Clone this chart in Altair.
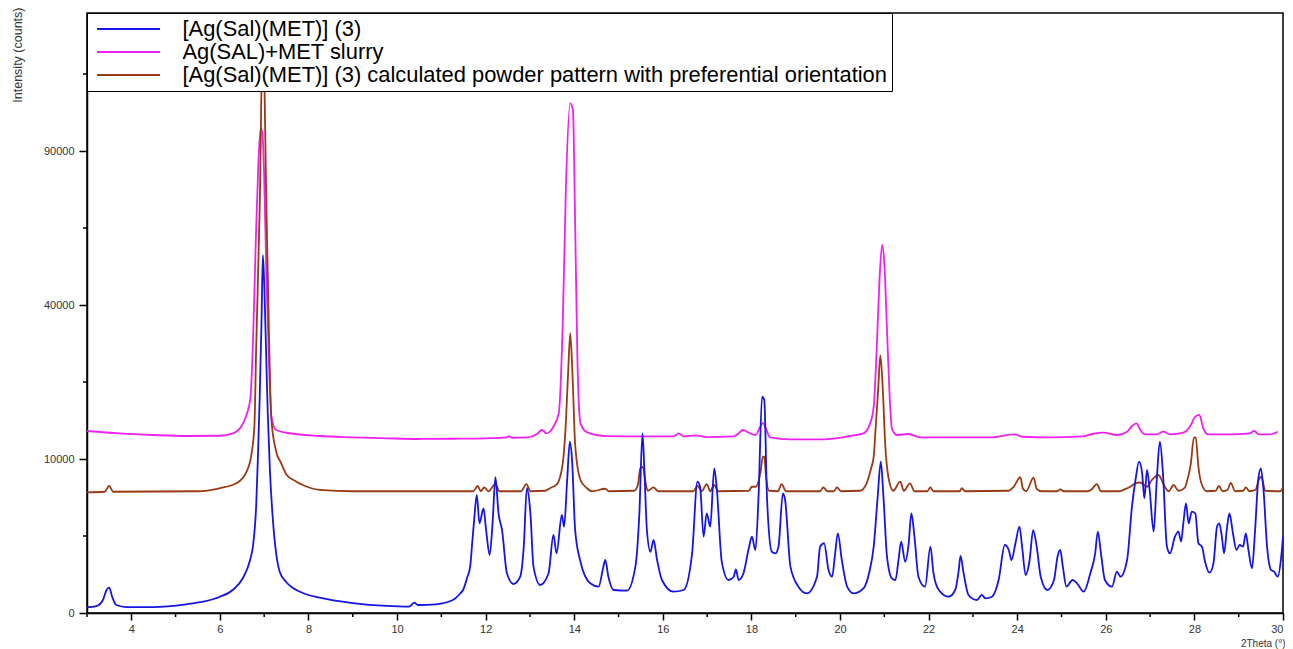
import altair as alt
import pandas as pd

SERIES = [
    "[Ag(Sal)(MET)] (3)",
    "Ag(SAL)+MET slurry",
    "[Ag(Sal)(MET)] (3) calculated powder pattern with preferential orientation",
]
COLORS = ["#1414e6", "#f020f0", "#9a3a14"]

# (2Theta, counts)
MEASURED = [
    (3.00, 14), (3.21, 20), (3.36, 71), (3.44, 223), (3.50, 270), (3.57, 108), (3.66, 27),
    (3.89, 15), (4.49, 15), (5.24, 32), (5.62, 54), (5.99, 108), (6.29, 223), (6.52, 516),
    (6.67, 1110), (6.75, 1950), (6.82, 4920), (6.86, 10500), (6.90, 20000), (6.94, 36000),
    (6.97, 54000), (7.00, 46000), (7.04, 30000), (7.08, 17000), (7.13, 8500), (7.20, 3500),
    (7.27, 1500), (7.35, 720), (7.50, 400), (7.65, 263), (7.90, 160), (8.25, 99), (9.00, 42),
    (9.76, 21), (10.27, 17), (10.39, 45), (10.47, 27), (10.88, 32), (11.26, 71), (11.43, 164),
    (11.49, 223), (11.58, 520), (11.65, 905), (11.70, 2200), (11.74, 3650), (11.80, 5870),
    (11.86, 3390), (11.95, 4620), (12.01, 2900), (12.09, 1418), (12.16, 3650), (12.22, 7770),
    (12.29, 4190), (12.37, 2900), (12.48, 665), (12.63, 355), (12.78, 556), (12.86, 1855),
    (12.93, 6560), (13.01, 4190), (13.08, 905), (13.23, 331), (13.42, 665), (13.53, 2565),
    (13.60, 1500), (13.72, 4050), (13.77, 3140), (13.84, 7460), (13.90, 12380), (13.95, 9870),
    (14.02, 2900), (14.14, 1110), (14.36, 372), (14.55, 292), (14.65, 841), (14.70, 1185),
    (14.77, 556), (14.89, 223), (15.19, 210), (15.38, 905), (15.47, 4190), (15.54, 13600),
    (15.58, 9020), (15.64, 2900), (15.72, 1580), (15.79, 2247), (15.87, 1185), (15.98, 459),
    (16.24, 191), (16.47, 223), (16.66, 1500), (16.78, 7270), (16.84, 6720), (16.92, 2455),
    (16.99, 4190), (17.07, 3140), (17.16, 8830), (17.22, 6380), (17.33, 1110), (17.48, 459),
    (17.60, 556), (17.65, 805), (17.71, 459), (17.82, 665), (17.94, 1765), (18.01, 2455),
    (18.09, 1673), (18.16, 5700), (18.24, 19720), (18.29, 19130), (18.35, 5700), (18.46, 1580),
    (18.54, 1500), (18.61, 1855), (18.71, 6040), (18.76, 5384), (18.88, 905), (19.06, 292),
    (19.25, 164), (19.48, 556), (19.55, 1855), (19.64, 2050), (19.74, 780), (19.82, 556),
    (19.89, 1500), (19.95, 2680), (20.04, 1185), (20.16, 292), (20.30, 164), (20.53, 257),
    (20.66, 700), (20.76, 1855), (20.85, 5700), (20.92, 9650), (20.98, 5700), (21.06, 1340),
    (21.17, 507), (21.25, 459), (21.32, 1185), (21.38, 2150), (21.47, 1110), (21.55, 2050),
    (21.61, 4190), (21.68, 2455), (21.77, 556), (21.92, 292), (22.04, 1855), (22.11, 665),
    (22.23, 223), (22.45, 112), (22.60, 223), (22.68, 780), (22.72, 1370), (22.79, 665),
    (22.90, 137), (23.09, 71), (23.20, 137), (23.28, 91), (23.43, 112), (23.58, 459),
    (23.72, 1950), (23.81, 1673), (23.87, 1185), (23.96, 2050), (24.05, 3140), (24.11, 1855),
    (24.19, 609), (24.28, 1185), (24.36, 2900), (24.44, 1855), (24.53, 556), (24.68, 223),
    (24.83, 459), (24.91, 1340), (24.97, 1673), (25.03, 905), (25.11, 292), (25.25, 459),
    (25.35, 372), (25.50, 191), (25.65, 665), (25.76, 1500), (25.82, 2790), (25.89, 1500),
    (25.98, 459), (26.14, 292), (26.25, 720), (26.33, 556), (26.48, 1185), (26.59, 4770),
    (26.67, 7460), (26.75, 9650), (26.82, 8230), (26.87, 5550), (26.93, 8620), (26.99, 6380),
    (27.08, 2790), (27.15, 7460), (27.22, 12380), (27.29, 8230), (27.38, 1855), (27.45, 1500),
    (27.56, 2455), (27.64, 2790), (27.70, 2150), (27.75, 3390), (27.81, 5070), (27.87, 3390),
    (27.94, 4330), (28.02, 4190), (28.09, 2050), (28.17, 1855), (28.24, 1110), (28.34, 686),
    (28.43, 1040), (28.51, 3140), (28.56, 3390), (28.62, 2455), (28.67, 1500), (28.73, 2900),
    (28.79, 4190), (28.87, 2680), (28.95, 1673), (29.02, 1950), (29.10, 1855), (29.16, 2680),
    (29.22, 1673), (29.30, 841), (29.37, 2900), (29.44, 7460), (29.50, 8830), (29.56, 6380),
    (29.64, 1855), (29.73, 780), (29.80, 720), (29.88, 556), (29.96, 1340), (30.00, 2455),
]

SLURRY = [
    (3.00, 13970), (3.74, 13600), (4.49, 13360), (5.24, 13210), (5.99, 13250), (6.29, 13600),
    (6.48, 14630), (6.60, 16530), (6.69, 19500), (6.75, 32000), (6.81, 58000), (6.87, 86000),
    (6.92, 99000), (6.96, 97000), (7.00, 80000), (7.05, 48000), (7.11, 26000), (7.16, 16500),
    (7.21, 14800), (7.27, 14120), (7.50, 13700), (8.25, 13210), (9.00, 13010), (9.76, 12870),
    (10.51, 12770), (11.26, 12800), (12.01, 12870), (12.48, 13010), (12.52, 13200),
    (12.60, 12950), (12.93, 13000), (13.16, 13510), (13.27, 14120), (13.37, 13600),
    (13.53, 14650), (13.65, 16820), (13.74, 35380), (13.81, 75450), (13.91, 109500),
    (13.97, 106700), (14.02, 64000), (14.07, 27700), (14.14, 15160), (14.28, 13800),
    (14.73, 13200), (15.48, 13150), (16.24, 13150), (16.36, 13600), (16.47, 13150),
    (16.73, 13300), (16.99, 13050), (17.60, 13150), (17.71, 13600), (17.81, 14120),
    (17.94, 13700), (18.09, 13360), (18.20, 14650), (18.26, 15250), (18.31, 14650),
    (18.42, 13010), (18.88, 12720), (19.64, 12720), (20.23, 13210), (20.53, 13600),
    (20.68, 15160), (20.76, 17950), (20.83, 29900), (20.89, 46750), (20.95, 57110),
    (21.00, 51530), (21.06, 33770), (21.12, 19720), (21.17, 14380), (21.28, 13360),
    (21.54, 13510), (21.81, 13010), (22.11, 13010), (22.79, 13010), (23.39, 13010),
    (23.95, 13460), (24.11, 13100), (24.72, 13010), (25.47, 13150), (25.69, 13510),
    (25.95, 13710), (26.25, 13360), (26.48, 13860), (26.59, 14740), (26.69, 15160),
    (26.78, 14120), (26.89, 13460), (27.15, 13460), (27.30, 13860), (27.45, 13460),
    (27.75, 13710), (27.90, 14650), (28.02, 16260), (28.11, 16530), (28.20, 14380),
    (28.31, 13460), (28.87, 13460), (29.24, 13600), (29.35, 13970), (29.45, 13460),
    (29.71, 13460), (29.88, 13860),
]

CALCULATED = [
    (3.00, 6140), (3.40, 6200), (3.50, 6800), (3.59, 6200), (5.50, 6250), (5.99, 6560),
    (6.37, 7090), (6.60, 8410), (6.71, 10530), (6.78, 14900), (6.82, 30000), (6.90, 70200),
    (6.97, 145000), (7.05, 70200), (7.12, 27200), (7.16, 16000), (7.27, 11000), (7.38, 9500),
    (7.50, 8100), (7.72, 7300), (7.87, 6910), (8.25, 6400), (9.00, 6250), (11.72, 6250),
    (11.82, 6800), (11.89, 6250), (11.97, 6650), (12.06, 6250), (12.22, 7010), (12.31, 6250),
    (12.80, 6250), (12.92, 7010), (13.01, 6250), (13.35, 6300), (13.46, 6590), (13.61, 7010),
    (13.74, 9450), (13.80, 14000), (13.86, 24000), (13.91, 33000), (13.96, 24000),
    (14.02, 12000), (14.14, 7460), (14.28, 6590), (14.40, 6250), (14.70, 6510), (14.78, 6250),
    (15.35, 6300), (15.44, 7000), (15.49, 8830), (15.55, 9000), (15.60, 7460), (15.66, 6300),
    (15.79, 6650), (15.90, 6250), (16.69, 6250), (16.78, 6800), (16.88, 6250), (16.99, 7010),
    (17.07, 6250), (17.16, 6910), (17.25, 6250), (17.94, 6300), (18.01, 6720), (18.10, 6720),
    (18.20, 8230), (18.26, 10300), (18.29, 10300), (18.33, 7830), (18.40, 6300), (18.60, 6250),
    (18.68, 7010), (18.78, 6250), (19.55, 6250), (19.62, 6650), (19.72, 6250), (19.86, 6250),
    (19.93, 6650), (20.02, 6250), (20.45, 6300), (20.60, 7090), (20.70, 8800), (20.76, 10300),
    (20.80, 14000), (20.86, 21000), (20.91, 28000), (20.96, 22000), (21.02, 12000),
    (21.09, 7830), (21.20, 6300), (21.36, 7270), (21.44, 6300), (21.58, 7090), (21.68, 6250),
    (21.97, 6250), (22.04, 6650), (22.11, 6250), (22.70, 6250), (22.75, 6560), (22.82, 6250),
    (23.80, 6300), (23.92, 6720), (24.07, 7770), (24.13, 6500), (24.20, 6250), (24.37, 7720),
    (24.44, 6500), (24.55, 6250), (24.90, 6250), (24.97, 6450), (25.05, 6250), (25.60, 6250),
    (25.67, 6400), (25.80, 7010), (25.89, 6250), (26.30, 6250), (26.45, 6500), (26.55, 6720),
    (26.67, 7090), (26.78, 7180), (26.93, 6720), (27.04, 7460), (27.19, 8030), (27.31, 6910),
    (27.42, 6250), (27.53, 6910), (27.64, 6300), (27.78, 6600), (27.83, 7270), (27.92, 9450),
    (27.99, 13010), (28.03, 13010), (28.09, 9020), (28.17, 6910), (28.28, 6250), (28.48, 6300),
    (28.55, 6800), (28.64, 6250), (28.75, 6400), (28.82, 7150), (28.92, 6250), (29.10, 6300),
    (29.16, 6650), (29.24, 6250), (29.38, 6400), (29.45, 7460), (29.51, 7830), (29.60, 6300),
    (29.94, 6250), (30.00, 6650),
]

X_MAJOR = [4, 6, 8, 10, 12, 14, 16, 18, 20, 22, 24, 26, 28, 30]
X_MINOR = [3, 5, 7, 9, 11, 13, 15, 17, 19, 21, 23, 25, 27, 29]
Y_MAJOR = [0, 10000, 40000, 90000]
Y_MINOR = [2500, 22500, 62500, 122500]

FONT = "Liberation Sans"
W, H = 1196, 600


def frame(points, name):
    return pd.DataFrame({"theta": [p[0] for p in points],
                         "counts": [p[1] for p in points],
                         "series": name})


x_scale = alt.Scale(domain=[3, 30], nice=False, zero=False)
y_scale = alt.Scale(type="sqrt", domain=[0, 151800], nice=False)

x_enc = alt.X("theta:Q", scale=x_scale, axis=alt.Axis(
    values=X_MAJOR, title="2Theta (°)", grid=False, tickSize=7, labelPadding=3,
    labelFont=FONT, labelFontSize=11, labelColor="#333333", labelFlush=True,
    titleFont=FONT, titleFontSize=10, titleFontWeight="normal", titleColor="#333333",
    titleAnchor="end", titleAlign="right", titleBaseline="top", titleX=W + 2, titleY=25,
    domainColor="black", domainWidth=1.5, tickColor="black", tickWidth=1.5))

y_enc = alt.Y("counts:Q", scale=y_scale, axis=alt.Axis(
    values=Y_MAJOR, format="d", title="Intensity (counts)", grid=False, tickSize=8,
    labelPadding=5, labelFont=FONT, labelFontSize=11, labelColor="#333333",
    titleFont=FONT, titleFontSize=12.5, titleFontWeight="normal", titleColor="#333333",
    titleAngle=270, titleAlign="right", titleBaseline="middle", titleX=-70, titleY=-6,
    domainColor="black", domainWidth=1.5, tickColor="black", tickWidth=1.5))

color_enc = alt.Color("series:N", scale=alt.Scale(domain=SERIES, range=COLORS), legend=alt.Legend(
    title=None, orient="none", legendX=0, legendY=0, direction="vertical",
    symbolType="M-4,0H4", symbolSize=248, symbolStrokeWidth=2, symbolOffset=25.6,
    labelOffset=43, labelFont=FONT, labelFontSize=21.9, labelColor="black", labelLimit=1500,
    padding=5, rowPadding=0, strokeColor="black", fillColor="white", cornerRadius=0))


def layer(points, name):
    return alt.Chart(frame(points, name)).mark_line(
        strokeWidth=1.8, interpolate="monotone").encode(x=x_enc, y=y_enc, color=color_enc)


minor_y = alt.Chart(pd.DataFrame({"counts": Y_MINOR})).mark_rule(
    color="black", strokeWidth=1.5).encode(y=y_enc, x=alt.value(-4), x2=alt.value(0))
minor_x = alt.Chart(pd.DataFrame({"theta": X_MINOR})).mark_rule(
    color="black", strokeWidth=1.5).encode(x=x_enc, y=alt.value(H), y2=alt.value(H + 4))

chart = alt.layer(
    layer(SLURRY, SERIES[1]),
    layer(CALCULATED, SERIES[2]),
    layer(MEASURED, SERIES[0]),
    minor_y,
    minor_x,
).properties(
    width=W, height=H,
    autosize=alt.AutoSizeParams(type="none"),
    padding={"left": 79, "top": 5, "right": 2, "bottom": 36},
).configure_view(stroke="black", strokeWidth=1.5)

chart.save("out.html", embed_options={"renderer": "svg", "actions": False})
